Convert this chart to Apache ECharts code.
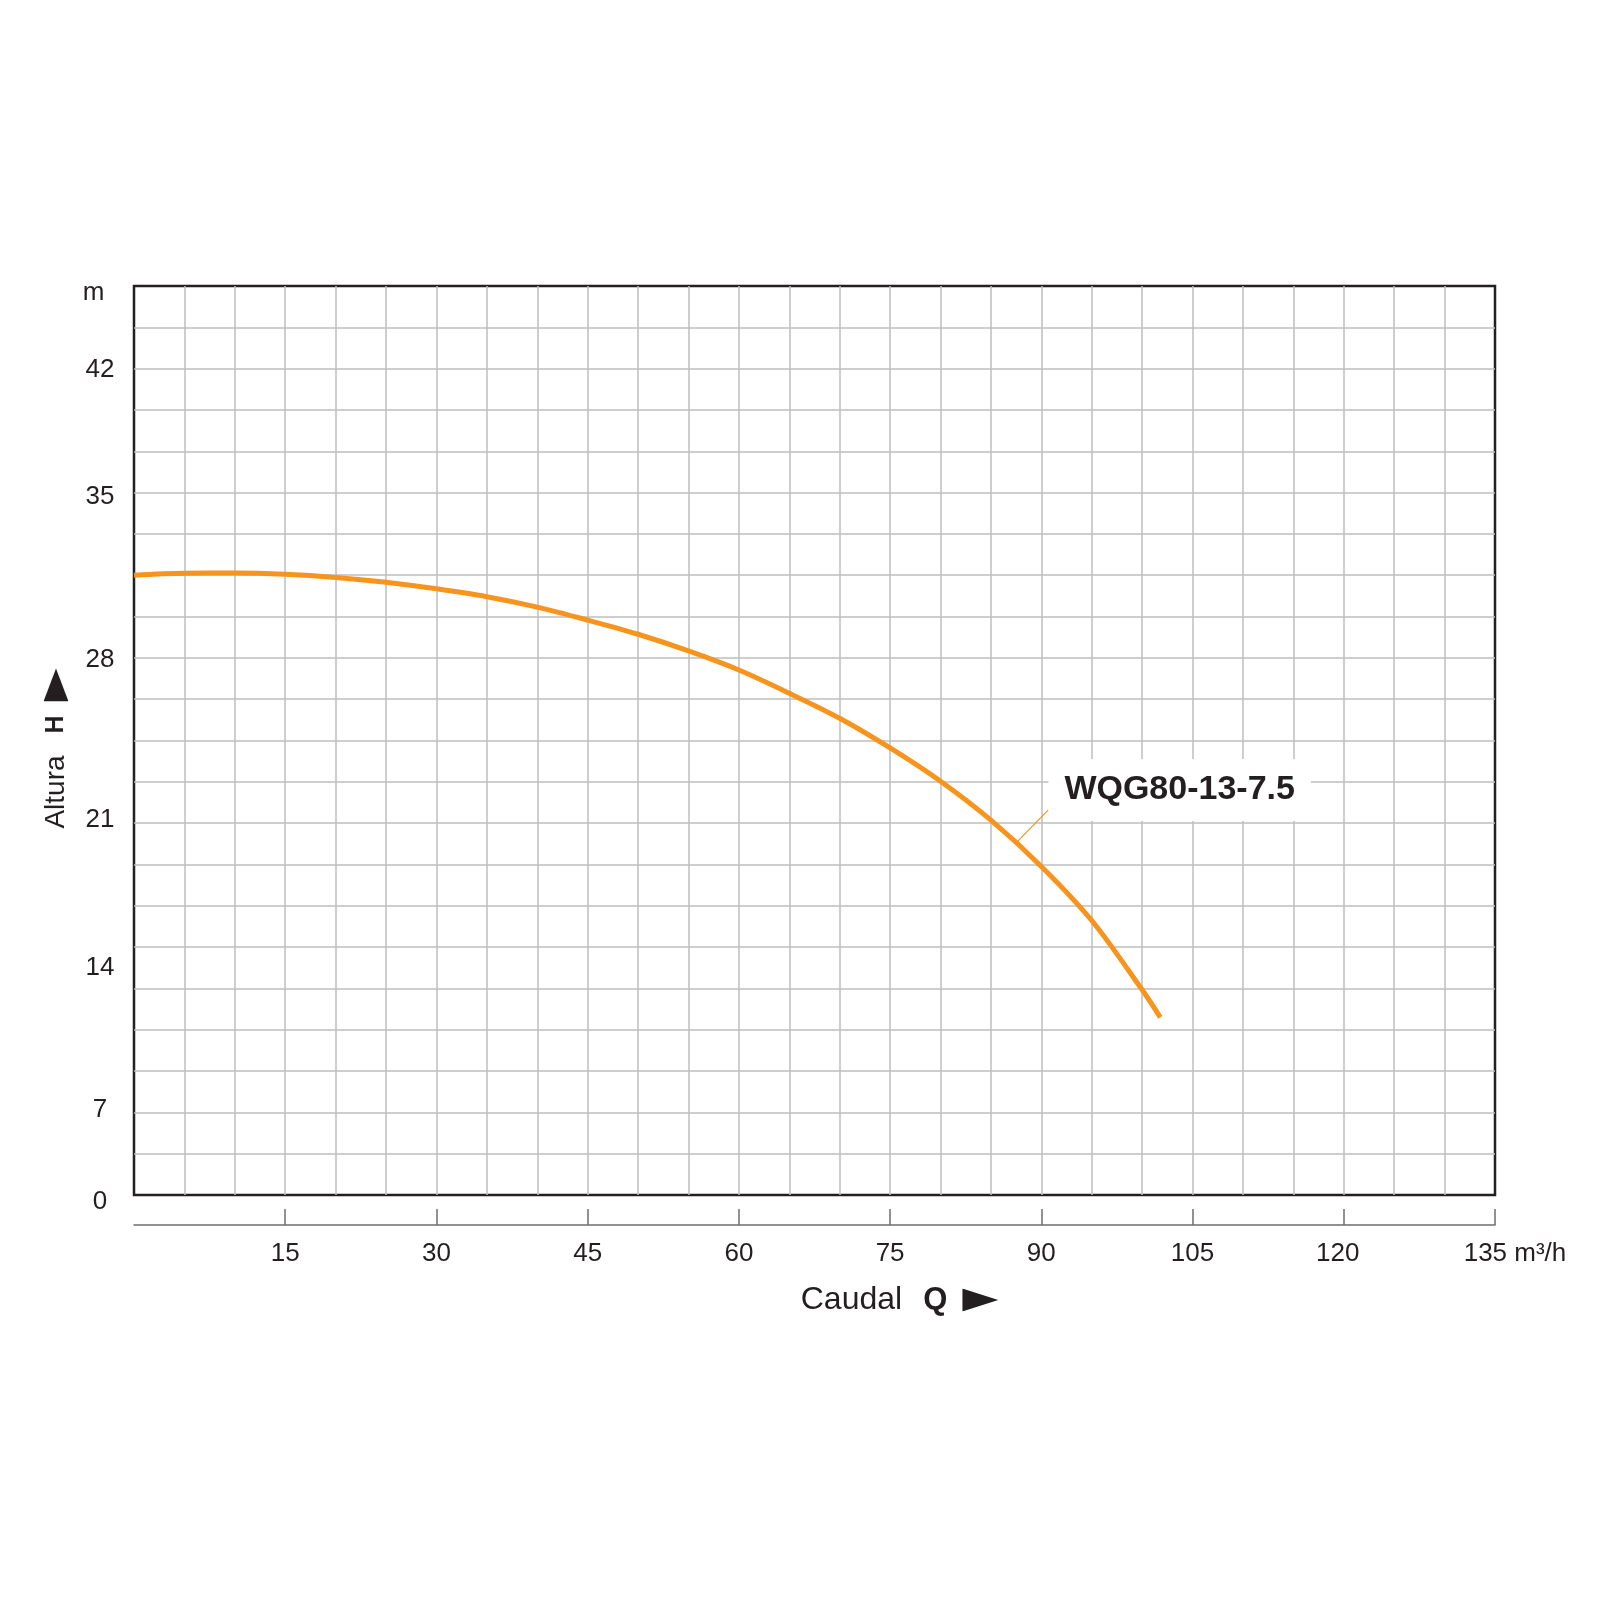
<!DOCTYPE html>
<html>
<head>
<meta charset="utf-8">
<script src="https://cdn.jsdelivr.net/npm/echarts@6/dist/echarts.min.js"></script>
<style>
  html, body { margin: 0; padding: 0; background: #fff; }
  #chart { width: 1600px; height: 1600px; }
</style>
</head>
<body>
<div id="chart"></div>
<script>
// pump curve: Q in m3/h, H in m
var flowQ = [0, 5, 10, 15, 20, 25, 30, 35, 40, 45, 50, 55, 60, 65, 70, 75, 80, 85, 90, 95, 100, 101.8]
var headH = [31.5, 31.6, 31.61, 31.55, 31.39, 31.14, 30.81, 30.41, 29.88, 29.22, 28.5, 27.65, 26.68, 25.5, 24.23, 22.72, 21.03, 19.05, 16.7, 13.95, 10.43, 9.03]
var curveName = 'WQG80-13-7.5'
// leader line of the curve name: from the curve to the name box
var leaderQ = [87.5, 90.7]
var leaderH = [17.9, 19.57]

// x tick labels
var xTicks = [15, 30, 45, 60, 75, 90, 105, 120, 135]
// y tick labels sit where the original puts them
var yTickAt = [0, 4.32, 11.54, 19.06, 27.19, 35.47, 41.93, 45.84]
var yTickText = ['0', '7', '14', '21', '28', '35', '42', 'm']

var ink = '#231f20'
var orange = '#f7941d'
var font = 'Liberation Sans'

function triangle (w, h) {
  var svg = '<svg xmlns="http://www.w3.org/2000/svg" width="' + w + '" height="' + h + '">' +
    '<polygon points="0,0 ' + w + ',' + (h / 2) + ' 0,' + h + '" fill="' + ink + '"/></svg>'
  return 'data:image/svg+xml;charset=utf-8,' + encodeURIComponent(svg)
}

var chartDom = document.getElementById('chart')
var myChart = echarts.init(chartDom)

var option = {
  animation: false,
  grid: {
    left: 134,
    right: 105,
    top: 286,
    bottom: 405,
    show: true,
    borderColor: ink,
    borderWidth: 2.5
  },
  xAxis: [{
    type: 'value',
    min: 0,
    max: 135,
    interval: 5,
    axisLine: { show: false },
    axisTick: { show: false },
    axisLabel: { show: false },
    splitLine: { show: true, showMinLine: false, showMaxLine: false, lineStyle: { color: '#bcbec0', width: 1.5 } }
  }, {
    type: 'value',
    min: 0,
    max: 135,
    position: 'bottom',
    offset: 30,
    axisLine: { show: true, onZero: false, lineStyle: { color: '#6d6e71', width: 1.5 } },
    axisTick: { show: true, inside: true, length: 16, customValues: xTicks, lineStyle: { color: '#6d6e71', width: 1.5 } },
    axisLabel: {
      customValues: xTicks,
      margin: 16,
      fontSize: 26,
      fontFamily: font,
      color: ink,
      formatter: function (v) {
        if (v === 135) return '{last|135} {unit|m³/h}'
        if (v === 120) return '{near|120}'
        return String(v)
      },
      rich: {
        last: { fontSize: 26, fontFamily: font, color: ink, padding: [0, 0, 0, 40] },
        near: { fontSize: 26, fontFamily: font, color: ink, padding: [0, 12, 0, 0] },
        unit: { fontSize: 26, fontFamily: font, color: ink }
      }
    },
    splitLine: { show: false },
    name: '{a|Caudal}{b|Q}{c| }',
    nameLocation: 'middle',
    nameGap: 59,
    nameTextStyle: {
      padding: [0, 0, 0, 170],
      rich: {
        a: { fontSize: 32, fontFamily: font, color: ink },
        b: { fontSize: 31, fontFamily: font, fontWeight: 'bold', color: ink, padding: [0, 15, 0, 21] },
        c: { width: 36, height: 23, backgroundColor: { image: triangle(36, 23) } }
      }
    }
  }],
  yAxis: {
    type: 'value',
    min: 0,
    max: 46.2,
    interval: 2.1,
    axisLine: { show: false },
    axisTick: { show: false },
    splitLine: { show: true, showMinLine: false, showMaxLine: false, lineStyle: { color: '#bcbec0', width: 1.5 } },
    axisLabel: {
      customValues: yTickAt,
      margin: 34,
      align: 'center',
      fontSize: 26,
      fontFamily: font,
      color: ink,
      formatter: function (v) {
        var best = 0
        yTickAt.forEach(function (t, i) {
          if (Math.abs(t - v) < Math.abs(yTickAt[best] - v)) best = i
        })
        if (best === 0) return '{low|' + yTickText[best] + '}'
        if (best === yTickAt.length - 1) return '{unit|' + yTickText[best] + '}'
        return yTickText[best]
      },
      rich: {
        low: { fontSize: 26, fontFamily: font, color: ink, padding: [14, 0, 0, 0] },
        unit: { fontSize: 26, fontFamily: font, color: ink, padding: [0, 13, 0, 0] }
      }
    },
    name: '{a|Altura}{b|H}{c| }',
    nameLocation: 'middle',
    nameRotate: 90,
    nameGap: 64,
    nameTextStyle: {
      padding: [0, 16, 0, 0],
      rich: {
        a: { fontSize: 28, fontFamily: font, color: ink },
        b: { fontSize: 25, fontFamily: font, fontWeight: 'bold', color: ink, padding: [0, 14, 0, 22] },
        c: { width: 33, height: 25, backgroundColor: { image: triangle(33, 25) } }
      }
    }
  },
  series: [{
    type: 'line',
    name: curveName,
    data: flowQ.map(function (q, i) { return [q, headH[i]] }),
    smooth: 0.33,
    showSymbol: false,
    lineStyle: { color: orange, width: 5 },
    emphasis: { disabled: true },
    z: 3
  }, {
    type: 'line',
    name: 'leader',
    data: leaderQ.map(function (q, i) {
      var item = { value: [q, leaderH[i]] }
      if (i === leaderQ.length - 1) item.label = { show: true }
      return item
    }),
    symbol: 'circle',
    symbolSize: 0,
    showSymbol: true,
    lineStyle: { color: orange, width: 1.2 },
    label: {
      show: false,
      position: 'right',
      distance: 0,
      offset: [0, -20],
      formatter: curveName,
      fontSize: 34,
      fontWeight: 'bold',
      fontFamily: font,
      color: ink,
      backgroundColor: '#fff',
      padding: [12, 16, 16, 16]
    },
    emphasis: { disabled: true },
    z: 2
  }]
}

option && myChart.setOption(option)
</script>
</body>
</html>
